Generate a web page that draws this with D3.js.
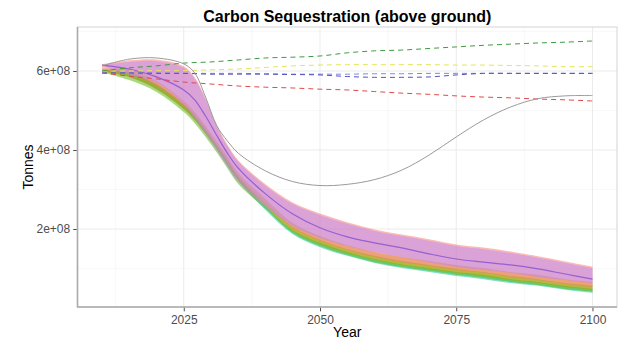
<!DOCTYPE html>
<html>
<head>
<meta charset="utf-8">
<script src="https://cdn.jsdelivr.net/npm/d3@7"></script>
<style>
  body { margin: 0; background: #fff; }
  svg { display: block; font-family: "Liberation Sans", Arial, sans-serif; }
</style>
</head>
<body>
<svg id="chart" width="621" height="342"></svg>
<script>
// Projection years for the ensemble ribbons and the reference run
const years = [2010, 2015, 2020, 2025, 2027, 2029, 2031, 2033, 2035, 2040, 2045,
               2050, 2055, 2060, 2065, 2070, 2075, 2080, 2085, 2090, 2095, 2100];

// Ensemble ranges, in units of 1e8 tonnes
const tealLo    = [6.00, 5.85, 5.54, 5.04, 4.76, 4.41, 4.03, 3.62, 3.22, 2.48, 1.87, 1.54, 1.32, 1.14, 1.01, 0.91, 0.81, 0.73, 0.63, 0.56, 0.46, 0.38];
const tealHi    = [6.03, 5.97, 5.67, 5.16, 4.89, 4.53, 4.15, 3.75, 3.34, 2.58, 1.97, 1.65, 1.42, 1.24, 1.11, 1.01, 0.91, 0.84, 0.73, 0.66, 0.56, 0.48];
const limeLo    = [5.97, 5.77, 5.47, 4.96, 4.68, 4.33, 3.95, 3.54, 3.14, 2.51, 1.90, 1.57, 1.34, 1.16, 1.04, 0.94, 0.84, 0.76, 0.66, 0.58, 0.48, 0.41];
const limeHi    = [6.03, 5.95, 5.65, 5.14, 4.86, 4.51, 4.13, 3.72, 3.32, 2.66, 2.05, 1.72, 1.49, 1.32, 1.19, 1.09, 0.99, 0.91, 0.81, 0.73, 0.63, 0.56];
const mustardLo = [5.97, 5.85, 5.54, 5.04, 4.76, 4.41, 4.03, 3.62, 3.22, 2.56, 1.95, 1.62, 1.39, 1.22, 1.09, 0.99, 0.89, 0.81, 0.71, 0.63, 0.53, 0.46];
const mustardHi = [6.05, 6.05, 5.75, 5.24, 4.96, 4.61, 4.23, 3.82, 3.42, 2.76, 2.15, 1.82, 1.59, 1.42, 1.29, 1.19, 1.09, 1.01, 0.91, 0.84, 0.73, 0.66];
const redLo     = [6.00, 5.92, 5.62, 5.11, 4.84, 4.48, 4.10, 3.70, 3.29, 2.63, 2.03, 1.70, 1.47, 1.29, 1.16, 1.06, 0.96, 0.89, 0.78, 0.71, 0.61, 0.53];
const redHi     = [6.17, 6.27, 6.29, 6.12, 5.84, 5.31, 4.65, 4.14, 3.74, 3.13, 2.67, 2.39, 2.17, 1.99, 1.86, 1.74, 1.61, 1.53, 1.43, 1.31, 1.18, 1.05];
const violetLo  = [6.13, 5.90, 5.70, 5.16, 4.81, 4.41, 4.00, 3.57, 3.19, 2.56, 2.08, 1.77, 1.57, 1.42, 1.29, 1.16, 1.04, 0.96, 0.89, 0.78, 0.71, 0.63];
const violetHi  = [6.15, 6.23, 6.25, 6.08, 5.80, 5.27, 4.61, 4.10, 3.70, 3.09, 2.63, 2.35, 2.13, 1.95, 1.82, 1.70, 1.57, 1.49, 1.39, 1.27, 1.14, 1.01];
const violetMid = [6.15, 6.05, 5.85, 5.52, 5.27, 4.86, 4.38, 3.92, 3.54, 2.89, 2.38, 2.03, 1.80, 1.65, 1.52, 1.37, 1.24, 1.16, 1.09, 0.99, 0.86, 0.73];
const reference = [6.13, 6.30, 6.33, 6.18, 5.95, 5.34, 4.63, 4.23, 3.92, 3.47, 3.20, 3.10, 3.13, 3.25, 3.49, 3.87, 4.33, 4.76, 5.09, 5.30, 5.37, 5.38];

// Baseline scenarios (dashed)
const baseYears = [2010, 2015, 2020, 2025, 2030, 2035, 2040, 2045, 2050, 2055,
                   2060, 2065, 2070, 2075, 2080, 2085, 2090, 2095, 2100];
const baseGreen  = [6.00, 6.08, 6.13, 6.20, 6.23, 6.28, 6.33, 6.35, 6.38, 6.46, 6.51, 6.53, 6.57, 6.61, 6.65, 6.68, 6.71, 6.73, 6.76];
const baseYellow = [6.00, 6.00, 6.01, 6.01, 6.03, 6.05, 6.09, 6.13, 6.15, 6.16, 6.16, 6.16, 6.16, 6.15, 6.15, 6.14, 6.13, 6.11, 6.11];
const baseBlue   = [5.95, 5.95, 5.95, 5.94, 5.94, 5.94, 5.93, 5.92, 5.92, 5.92, 5.93, 5.93, 5.94, 5.94, 5.94, 5.94, 5.94, 5.94, 5.94];
const baseIndigo = [5.95, 5.95, 5.94, 5.94, 5.92, 5.92, 5.92, 5.91, 5.90, 5.86, 5.84, 5.84, 5.85, 5.90, 5.94, 5.94, 5.94, 5.94, 5.94];
const baseRed    = [5.95, 5.87, 5.80, 5.72, 5.67, 5.62, 5.59, 5.57, 5.54, 5.52, 5.48, 5.44, 5.41, 5.37, 5.34, 5.32, 5.29, 5.27, 5.24];

const xTicks = [2025, 2050, 2075, 2100];
const xMinor = [2012.5, 2037.5, 2062.5, 2087.5];
const yTicks = [2e8, 4e8, 6e8];
const yMinor = [1e8, 3e8, 5e8, 7e8];
const UNIT = 1e8;

const svg = d3.select("#chart");
const panel = { left: 77.5, right: 617, top: 27, bottom: 307 };

const x = d3.scaleLinear().domain([2005.5, 2104.5]).range([panel.left, panel.right]);
const y = d3.scaleLinear().domain([0.025e8, 7.114e8]).range([panel.bottom, panel.top]);
const curve = d3.curveCatmullRom.alpha(0.5);

// Panel background and grid
svg.append("rect").attr("x", panel.left).attr("y", panel.top)
  .attr("width", panel.right - panel.left).attr("height", panel.bottom - panel.top)
  .attr("fill", "#fff");

const grid = svg.append("g");
grid.selectAll(".ymin").data(yMinor).join("line")
  .attr("x1", panel.left).attr("x2", panel.right)
  .attr("y1", d => y(d)).attr("y2", d => y(d))
  .attr("stroke", "#f3f3f3").attr("stroke-width", 0.6);
grid.selectAll(".xmin").data(xMinor).join("line")
  .attr("y1", panel.top).attr("y2", panel.bottom)
  .attr("x1", d => x(d)).attr("x2", d => x(d))
  .attr("stroke", "#f3f3f3").attr("stroke-width", 0.6);
grid.selectAll(".ymaj").data(yTicks).join("line")
  .attr("x1", panel.left).attr("x2", panel.right)
  .attr("y1", d => y(d)).attr("y2", d => y(d))
  .attr("stroke", "#ebebeb").attr("stroke-width", 1);
grid.selectAll(".xmaj").data(xTicks).join("line")
  .attr("y1", panel.top).attr("y2", panel.bottom)
  .attr("x1", d => x(d)).attr("x2", d => x(d))
  .attr("stroke", "#ebebeb").attr("stroke-width", 1);

svg.append("clipPath").attr("id", "clip").append("rect")
  .attr("x", panel.left).attr("y", panel.top)
  .attr("width", panel.right - panel.left).attr("height", panel.bottom - panel.top);

const plot = svg.append("g").attr("clip-path", "url(#clip)");

const band = (lo, hi) => d3.area()
  .curve(curve)
  .x((d, i) => x(years[i]))
  .y0((d, i) => y(lo[i] * UNIT))
  .y1((d, i) => y(hi[i] * UNIT))(years);

const ribbons = [
  { lo: tealLo,    hi: tealHi,    fill: "#00C094", op: 0.5 },
  { lo: limeLo,    hi: limeHi,    fill: "#53B400", op: 0.5 },
  { lo: mustardLo, hi: mustardHi, fill: "#C49A00", op: 0.5 },
  { lo: redLo,     hi: redHi,     fill: "#F8766D", op: 0.5 },
  { lo: violetLo,  hi: violetHi,  fill: "#B98AF6", op: 0.5 }
];
ribbons.forEach(r => {
  plot.append("path").attr("d", band(r.lo, r.hi))
    .attr("fill", r.fill).attr("fill-opacity", r.op).attr("stroke", "none");
});

const lineOf = (xs, vs) => d3.line()
  .curve(curve)
  .x((d, i) => x(xs[i]))
  .y((d, i) => y(vs[i] * UNIT))(xs);

plot.append("path").attr("d", lineOf(years, violetMid))
  .attr("fill", "none").attr("stroke", "#9560d2").attr("stroke-width", 1.2);

const dashed = [
  { v: baseRed,    c: "#e34848" },
  { v: baseYellow, c: "#e4e456" },
  { v: baseBlue,   c: "#8585e2" },
  { v: baseIndigo, c: "#5252bd" },
  { v: baseGreen,  c: "#3f9a3f" }
];
dashed.forEach(s => {
  plot.append("path").attr("d", lineOf(baseYears, s.v))
    .attr("fill", "none").attr("stroke", s.c).attr("stroke-width", 1)
    .attr("stroke-dasharray", "5,4");
});

plot.append("path").attr("d", lineOf(years, reference))
  .attr("fill", "none").attr("stroke", "#9a9a9a").attr("stroke-width", 1);

// Panel border and axis lines
svg.append("rect").attr("x", panel.left).attr("y", panel.top)
  .attr("width", panel.right - panel.left).attr("height", panel.bottom - panel.top)
  .attr("fill", "none").attr("stroke", "#d4d4d4").attr("stroke-width", 1);
svg.append("line").attr("x1", panel.left).attr("x2", panel.left)
  .attr("y1", panel.top).attr("y2", panel.bottom + 0.5)
  .attr("stroke", "#a9a9a9").attr("stroke-width", 1.6);
svg.append("line").attr("x1", panel.left).attr("x2", panel.right)
  .attr("y1", panel.bottom).attr("y2", panel.bottom)
  .attr("stroke", "#a9a9a9").attr("stroke-width", 1.6);

// Axes
const fmtY = d => `${d / 1e8}e+08`;
const yAxis = d3.axisLeft(y).tickValues(yTicks).tickFormat(fmtY).tickSize(3.5).tickPadding(3);
const xAxis = d3.axisBottom(x).tickValues(xTicks).tickFormat(d3.format("d")).tickSize(3.5).tickPadding(4);

const gy = svg.append("g").attr("transform", `translate(${panel.left - 0.8},0)`).call(yAxis);
const gx = svg.append("g").attr("transform", `translate(0,${panel.bottom + 0.8})`).call(xAxis);
[gx, gy].forEach(g => {
  g.select(".domain").remove();
  g.selectAll(".tick line").attr("stroke", "#4d4d4d").attr("stroke-width", 1);
  g.selectAll(".tick text").attr("fill", "#4d4d4d")
    .style("font-size", "12px").style("font-family", "'Liberation Sans', Arial, sans-serif");
});

// Titles
svg.append("text").attr("x", (panel.left + panel.right) / 2).attr("y", 22)
  .attr("text-anchor", "middle").attr("font-weight", "bold")
  .style("font-size", "16px").attr("fill", "#000")
  .text("Carbon Sequestration (above ground)");

svg.append("text").attr("x", (panel.left + panel.right) / 2).attr("y", 337)
  .attr("text-anchor", "middle").style("font-size", "14px").attr("fill", "#000")
  .text("Year");

svg.append("text").attr("transform", `translate(33,${(panel.top + panel.bottom) / 2}) rotate(-90)`)
  .attr("text-anchor", "middle").style("font-size", "14px").attr("fill", "#000")
  .text("Tonnes");
</script>
</body>
</html>
